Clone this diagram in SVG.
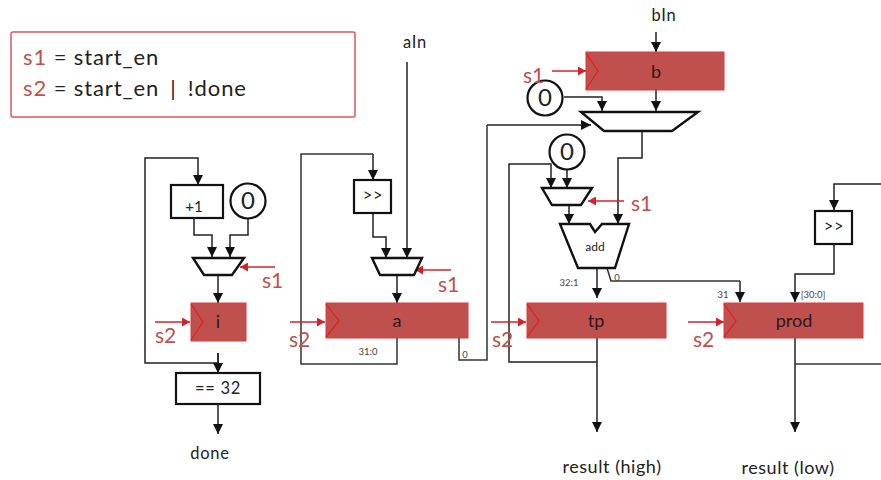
<svg xmlns="http://www.w3.org/2000/svg" width="881" height="480" viewBox="0 0 881 480">
<defs>
<marker id="ak" markerUnits="userSpaceOnUse" markerWidth="11" markerHeight="10" refX="10" refY="5" orient="auto"><path d="M0 0L10 5L0 10Z" fill="#111"/></marker>
<marker id="ar" markerUnits="userSpaceOnUse" markerWidth="9" markerHeight="9" refX="8" refY="4.5" orient="auto"><path d="M0 0L8 4.5L0 9Z" fill="#d2232a"/></marker>
</defs>
<style>
text{font-family:"Lato","Open Sans","Liberation Sans",sans-serif;text-anchor:middle;fill:#222}
.w{fill:none;stroke:#333;stroke-width:1.5}
.wa{fill:none;stroke:#222;stroke-width:1.5;marker-end:url(#ak)}
.r{fill:none;stroke:#d2232a;stroke-width:1.5;marker-end:url(#ar)}
.reg{fill:#c0504d;stroke:#e03a3a;stroke-width:1}
.ck{fill:none;stroke:#e02020;stroke-width:1.2}
.b{fill:#fff;stroke:#111;stroke-width:2.2}
.mux{fill:#fff;stroke:#111;stroke-width:2.4}
.sg{fill:#c0504d;font-size:21px;text-anchor:start}
.t{font-size:16.5px;letter-spacing:.7px}
.s{font-size:9.5px;fill:#444}
.z{font-size:24px}
.rt{font-size:18px;fill:#2a1a1a}
.lg{font-size:22px;letter-spacing:.9px;text-anchor:start}
.res{font-size:18px;letter-spacing:.55px}
</style>
<g id="connectors">
<path class="wa" d="M218 353V363H145V158H198V185"/>
<path class="wa" d="M194 219V235H212V257"/>
<path class="wa" d="M248 217V235H230V257"/>
<path class="wa" d="M218 276V303"/>
<path class="wa" d="M218 353V373"/>
<path class="wa" d="M218 405V434"/>
<path class="wa" d="M373 154V180"/>
<path class="w" d="M397 338V364H301V154H373"/>
<path class="wa" d="M373 213V237H386V258"/>
<path class="wa" d="M407 62V258"/>
<path class="wa" d="M397 276V303"/>
<path class="w" d="M459 338V360H487V125"/>
<path class="wa" d="M487 125H591"/>
<path class="wa" d="M656 32V52"/>
<path class="wa" d="M656 90V111"/>
<path class="wa" d="M564 97H602V111"/>
<path class="wa" d="M642 131V158H618V224"/>
<path class="wa" d="M567 170V188"/>
<path class="wa" d="M597 362H509V164H551V188"/>
<path class="wa" d="M569 205V224"/>
<path class="wa" d="M597 268V298"/>
<path class="w" d="M607 268L611 281H740"/>
<path class="wa" d="M740 281V302"/>
<path class="wa" d="M597 337V432"/>
<path class="wa" d="M795 337V432"/>
<path class="wa" d="M881 184H834V210"/>
<path class="wa" d="M834 244V274H795V302"/>
<path class="w" d="M795 364H881"/>
</g>
<g id="connectors-control">
<path class="r" d="M275 267H240"/>
<path class="r" d="M155 322H190"/>
<path class="r" d="M451 270H415"/>
<path class="r" d="M290 322H325"/>
<path class="r" d="M552 71H586"/>
<path class="r" d="M491 322H526"/>
<path class="r" d="M624 201H588"/>
<path class="r" d="M688 322H724"/>
</g>
<g id="legend"><rect x="11" y="32" width="344" height="85" rx="2" fill="#fff" stroke="#e0575b" stroke-width="1.5"/>
<text class="lg" x="23" y="65"><tspan fill="#c0504d">s1</tspan> = start_en</text>
<text class="lg" x="23" y="96"><tspan fill="#c0504d">s2</tspan> = start_en<tspan style="word-spacing:4.5px"> | </tspan>!done</text></g>
<g id="inc"><rect class="b" x="171" y="185" width="52" height="33"/><text x="194" y="212" style="font-size:15px">+1</text></g>
<g id="zero1"><circle class="b" cx="248" cy="201" r="17.5"/><text class="z" x="248" y="209">0</text></g>
<g id="mux-i"><path class="mux" d="M193 258H244L232 275H204Z"/></g>
<g id="reg-i"><rect class="reg" x="191" y="303" width="55" height="38"/><path class="ck" d="M191 304L203 322L191 340"/><text class="rt" x="218" y="328">i</text></g>
<g id="eq"><rect class="b" x="176" y="373" width="84" height="31"/><text class="t" x="218" y="394">== 32</text></g>
<text class="t" x="210" y="459">done</text>
<g id="shift-a"><rect class="b" x="354" y="180" width="37" height="33"/><text class="t" x="373" y="201">&gt;&gt;</text></g>
<g id="mux-a"><path class="mux" d="M372 258H422L414 275H380Z"/></g>
<g id="reg-a"><rect class="reg" x="326" y="303" width="142" height="35"/><path class="ck" d="M326 304L339 321L326 337"/><text class="rt" x="397" y="327">a</text></g>
<text class="t" x="415" y="48">aIn</text>
<g id="reg-b"><rect class="reg" x="586" y="52" width="138" height="38"/><path class="ck" d="M586 53L598 71L586 89"/><text class="rt" x="656" y="78">b</text></g>
<text class="t" x="664" y="21">bIn</text>
<g id="zero2"><circle class="b" cx="545" cy="98" r="17.5"/><text class="z" x="545" y="106">0</text></g>
<g id="mux-b"><path class="mux" d="M581 112H698L672 131H604Z"/></g>
<g id="zero3"><circle class="b" cx="567" cy="152" r="17.5"/><text class="z" x="567" y="160">0</text></g>
<g id="mux-t"><path class="mux" d="M542 188H592L581 205H552Z"/></g>
<g id="adder"><path class="mux" d="M560 224H590L595 232L602 224H629L615 268H578Z"/><text x="595" y="251" style="font-size:12px">add</text></g>
<g id="reg-tp"><rect class="reg" x="527" y="303" width="139" height="35"/><path class="ck" d="M527 304L539 321L527 337"/><text class="rt" x="596" y="327">tp</text></g>
<g id="reg-prod"><rect class="reg" x="724" y="303" width="139" height="35"/><path class="ck" d="M724 304L736 321L724 337"/><text class="rt" x="794" y="327">prod</text></g>
<g id="shift-p"><rect class="b" x="815" y="211" width="37" height="33"/><text class="t" x="834" y="232">&gt;&gt;</text></g>
<text class="sg" x="262" y="288">s1</text><text class="sg" x="155" y="343">s2</text>
<text class="sg" x="438" y="292">s1</text><text class="sg" x="289" y="347">s2</text>
<text class="sg" x="523" y="83">s1</text><text class="sg" x="492" y="347">s2</text>
<text class="sg" x="631" y="211">s1</text><text class="sg" x="693" y="347">s2</text>
<text class="s" x="368" y="355">31:0</text><text class="s" x="465" y="358">0</text>
<text class="s" x="569" y="286">32:1</text><text class="s" x="617" y="281">0</text>
<text class="s" x="723" y="298">31</text><text class="s" x="813" y="298">[30:0]</text>
<text class="res" x="612" y="473">result (high)</text>
<text class="res" x="788" y="474">result (low)</text>
</svg>
